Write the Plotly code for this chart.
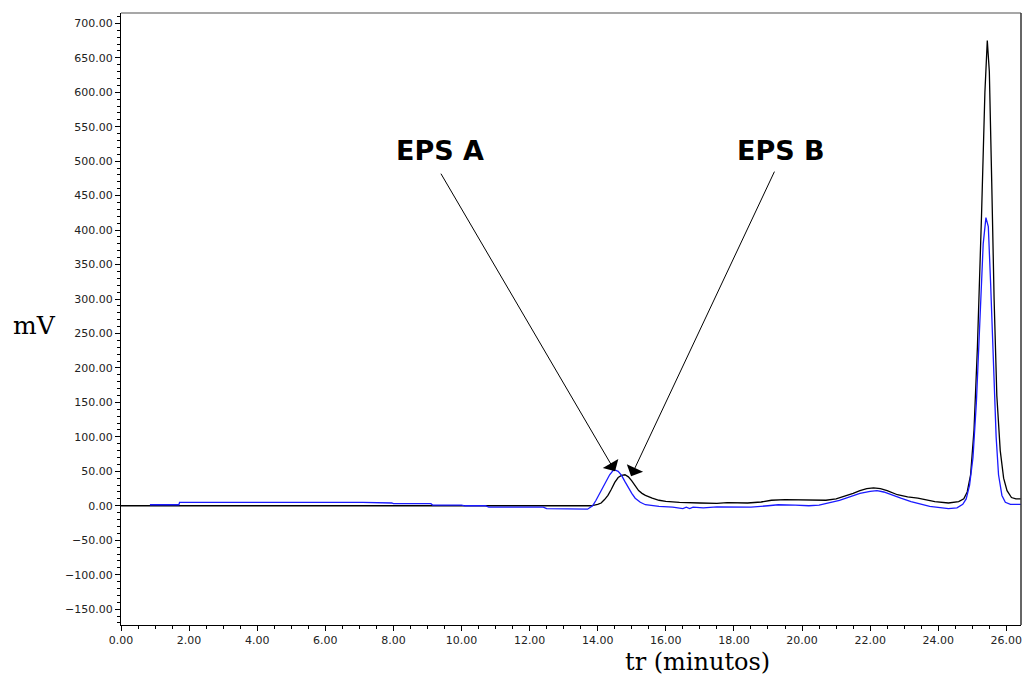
import plotly.graph_objects as go

# Black trace (EPS B)
black_t = [0.0, 0.85, 2.0, 4.0, 6.5, 7.0, 7.5, 9.0, 10.0, 11.0, 12.0, 13.5, 13.8, 14.0, 14.1, 14.2,
           14.3, 14.4, 14.5, 14.6, 14.7, 14.8, 14.9, 15.0, 15.1, 15.2, 15.3, 15.4, 15.6, 15.8,
           16.0, 16.4, 17.0, 17.5, 17.8, 18.4, 18.8, 19.1, 19.5, 19.85, 20.3, 20.7, 21.0, 21.2,
           21.5, 21.7, 21.9, 22.1, 22.3, 22.5, 22.8, 23.1, 23.4, 23.9, 24.3, 24.6, 24.75, 24.85,
           24.95, 25.05, 25.15, 25.27, 25.37, 25.44, 25.5, 25.57, 25.64, 25.72, 25.82, 25.92, 26.02,
           26.15, 26.28, 26.43]
black_mv = [0, 0, 0, 0, -1, 0, 0, -1, 0, 0, -1, -1, 0, 2, 4, 9,
            15, 24, 34, 41, 44, 45, 42, 36, 28, 22, 18, 15, 11, 8,
            6.5, 5, 4, 3.5, 4.5, 4, 5.5, 8, 9, 8.6, 8, 8, 10, 13,
            18, 22, 25, 26, 25, 22, 16, 13, 11, 6, 4, 6, 10, 20,
            45, 110, 230, 420, 600, 675, 630, 470, 300, 160, 80, 40, 22,
            12, 10, 10]

# Blue trace (EPS A)
blue_t = [0.85, 1.7, 1.72, 3.6, 3.7, 7.0, 7.1, 7.95, 8.0, 9.1, 9.15, 10.0, 10.1, 10.7, 10.8,
          12.4, 12.5, 13.7, 13.85, 13.95, 14.05, 14.15, 14.25, 14.35, 14.45, 14.5, 14.6, 14.7,
          14.8, 14.9, 15.0, 15.1, 15.25, 15.4, 15.6, 15.8, 16.2, 16.5, 16.6, 16.7, 16.8, 17.1,
          17.5, 17.8, 18.5, 19.0, 19.3, 19.8, 20.2, 20.5, 20.8, 21.1, 21.4, 21.7, 22.0, 22.2,
          22.4, 22.6, 22.9, 23.2, 23.5, 23.75, 24.3, 24.55, 24.72, 24.82, 24.92, 25.02, 25.12, 25.22,
          25.32, 25.4, 25.47, 25.54, 25.62, 25.7, 25.77, 25.87, 25.97, 26.12, 26.43]
blue_mv = [1.5, 1.5, 5, 5, 6, 6, 5, 4, 3, 3, 1, 1, 0, 0, -2,
           -2, -4, -5, 0, 8, 17, 26, 35, 45, 51, 52, 50, 44,
           35, 26, 18, 11, 5, 1.5, 0, -1, -2, -4, -2, -4, -2, -3,
           -1.5, -1.5, -2, 0, 1.5, 1, 0, 1, 4, 8, 13, 18, 21, 22,
           20, 16, 11, 6, 2, -1, -4, -3, 2, 10, 30, 70, 150, 270,
           380, 418, 405, 320, 200, 100, 45, 15, 5, 2, 2]

labels = ["EPS A", "EPS B"]
label_x = [9.37, 19.38]
label_y = [516, 516]
arrow_head_x = [14.51, 14.98]
arrow_head_y = [50, 43]
arrow_tail_x = [9.37, 19.21]
arrow_tail_y = [484, 487]

fig = go.Figure()
fig.add_trace(go.Scatter(x=black_t, y=black_mv, mode="lines",
                         line=dict(color="#000000", width=1.3), showlegend=False))
fig.add_trace(go.Scatter(x=blue_t, y=blue_mv, mode="lines",
                         line=dict(color="#1a1aff", width=1.3), showlegend=False))

for i in range(2):
    fig.add_annotation(x=arrow_head_x[i], y=arrow_head_y[i], xref="x", yref="y",
                       ax=arrow_tail_x[i], ay=arrow_tail_y[i], axref="x", ayref="y",
                       text="", showarrow=True, arrowhead=1, arrowsize=3,
                       arrowwidth=1, arrowcolor="#000000")
    fig.add_annotation(x=label_x[i], y=label_y[i], xref="x", yref="y",
                       text=labels[i], showarrow=False,
                       font=dict(family="DejaVu Sans", size=27, color="#000000", weight="bold"))

fig.add_annotation(x=-0.096, y=262, xref="paper", yref="y", text="mV", showarrow=False,
                   xanchor="center", yanchor="middle",
                   font=dict(family="DejaVu Serif", size=25, color="#000000"))
fig.add_annotation(x=0.64, y=-0.061, xref="paper", yref="paper", text="tr (minutos)",
                   showarrow=False, xanchor="center", yanchor="middle",
                   font=dict(family="DejaVu Serif", size=24, color="#000000"))

# frame (top grey, right dark)
fig.add_shape(type="line", xref="paper", yref="paper", x0=0, x1=1, y0=1, y1=1,
              line=dict(color="#8a8a8a", width=1.5))
fig.add_shape(type="line", xref="paper", yref="paper", x0=1, x1=1, y0=0, y1=1,
              line=dict(color="#333333", width=1.5))

tickfont = dict(family="DejaVu Sans", size=11, color="#222222")
fig.update_xaxes(range=[0, 26.43], dtick=2, tick0=0, tickformat=".2f", ticks="outside",
                 ticklen=5, tickcolor="#000", showline=True, linecolor="#000", linewidth=1.3,
                 showgrid=False, zeroline=False, tickfont=tickfont,
                 minor=dict(dtick=0.5, ticks="outside", ticklen=3, tickcolor="#000"))
fig.update_yaxes(range=[-173, 715], dtick=50, tick0=0, tickformat=".2f", ticks="outside",
                 ticklen=5, tickcolor="#000", showline=True, linecolor="#000", linewidth=1.3,
                 showgrid=False, zeroline=False, tickfont=tickfont,
                 minor=dict(dtick=10, ticks="outside", ticklen=3, tickcolor="#000"))

fig.update_layout(width=1023, height=677, margin=dict(l=121, r=2, t=13, b=52),
                  paper_bgcolor="white", plot_bgcolor="white")

fig.write_html("out.html")
